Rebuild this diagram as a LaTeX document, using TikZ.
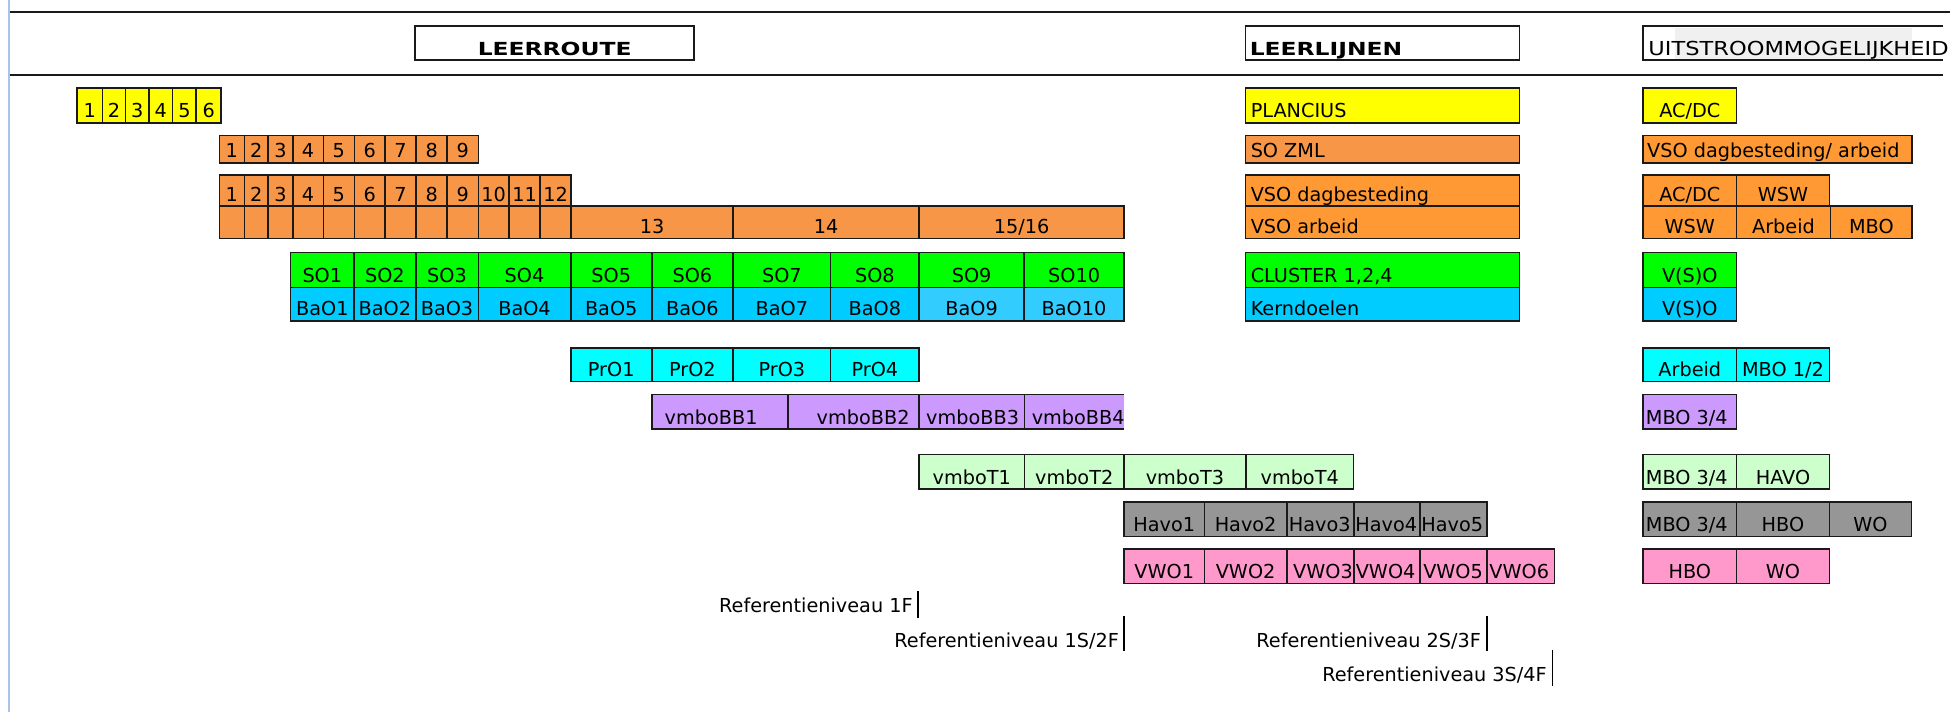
\documentclass[tikz,border=0pt]{standalone}
\usepackage{fontspec}
\setmainfont{DejaVu Sans}
\usepackage{graphicx}
\definecolor{cYel}{HTML}{FFFF00}
\definecolor{cOra}{HTML}{F79646}
\definecolor{cOrb}{HTML}{FF9933}
\definecolor{cGrn}{HTML}{00FF00}
\definecolor{cBlu}{HTML}{00CCFF}
\definecolor{cBlb}{HTML}{33CCFF}
\definecolor{cCya}{HTML}{00FFFF}
\definecolor{cPur}{HTML}{CC99FF}
\definecolor{cLgr}{HTML}{CCFFCC}
\definecolor{cGry}{HTML}{969696}
\definecolor{cPnk}{HTML}{FF99CC}
\definecolor{cLine}{HTML}{1A1A1A}
\definecolor{cSheet}{HTML}{A9C4EB}
\tikzset{
 cellline/.style={draw=cLine, line width=1.3pt},
 lbl/.style={inner sep=0pt, font=\fontsize{15.5}{18}\selectfont, text=black},
 hdr/.style={inner sep=0pt, font=\fontsize{14.5}{17}\selectfont\bfseries, text=black},
 rulestyle/.style={draw=cLine, line width=1.6pt},
 refbar/.style={draw=black, line width=1.4pt},
}
\newcommand\cel[7]{\draw[cellline, fill=#6] (#2,#4) rectangle (#3,#5);
 \node[lbl, anchor=base] (#1) at ({(#2+#3)/2},{#5-4}) {#7};}
\newcommand\celL[8]{\draw[cellline, fill=#6] (#2,#4) rectangle (#3,#5);
 \begin{scope}\clip (#2,#4) rectangle (#3,#5);
 \node[lbl, anchor=base west] (#1) at ({#2+#8},{#5-4}) {#7};\end{scope}}
\begin{document}
\begin{tikzpicture}[x=1pt,y=-1pt]
\fill[white] (0,0) rectangle (1570,573.2);
\useasboundingbox (0,0) rectangle (1570,573.2);
% sheet edge
\coordinate (se1) at (7,0); \coordinate (se2) at (7,573.2);
\draw[cSheet, line width=1.5pt] (se1) -- (se2);
% rules
\coordinate (r1a) at (8,9.4); \coordinate (r1b) at (1572,9.4);
\coordinate (r2a) at (8,60.6); \coordinate (r2b) at (1564,60.6);
\draw[rulestyle] (r1a) -- (r1b);
\draw[rulestyle] (r2a) -- (r2b);
% headers
\draw[cellline, fill=white] (334.3,21) rectangle (558.9,48.5);
\node[hdr, anchor=base] (hLR) at (446.6,44.5) {\scalebox{1.3}[1]{LEERROUTE}};
\draw[cellline, fill=white] (1002.8,21) rectangle (1223.5,48.5);
\node[hdr, anchor=base west] (hLL) at (1006,44.5) {\scalebox{1.3}[1]{LEERLIJNEN}};
\fill[black!6] (1348.6,22.8) rectangle (1539.2,47.6);
\draw[cellline] (1564,21) -- (1323,21) -- (1323,48.5) -- (1564,48.5);
\node[lbl, anchor=base west] (hUM) at (1327,44.5) {\scalebox{1.17}[1]{UITSTROOMMOGELIJKHEID}};
% yellow row
\foreach \a/\b/\t [count=\k] in {62/82.5/1,82.5/101/2,101/120/3,120/139/4,139/158/5,158/178/6}
 {\cel{ya\k}{\a}{\b}{71}{99}{cYel}{\t}}
% orange row 1..9
\foreach \a/\b/\t [count=\k] in {176.6/196.7/1,196.7/216/2,216/235.7/3,235.7/260.3/4,260.3/285.3/5,285.3/310/6,310/335/7,335/360.1/8,360.1/385.1/9}
 {\cel{ob\k}{\a}{\b}{109}{131}{cOra}{\t}}
% orange row 1..12
\foreach \a/\b/\t [count=\k] in {176.6/196.7/1,196.7/216/2,216/235.7/3,235.7/260.3/4,260.3/285.3/5,285.3/310/6,310/335/7,335/360.1/8,360.1/385.1/9,385.1/409.8/10,409.8/434.8/11,434.8/459.8/12}
 {\cel{oc\k}{\a}{\b}{141}{166}{cOra}{\t}
  \cel{od\k}{\a}{\b}{166}{192}{cOra}{}}
\cel{o13}{459.8}{590.2}{166}{192}{cOra}{13}
\cel{o14}{590.2}{740}{166}{192}{cOra}{14}
\cel{o15}{740}{905}{166}{192}{cOra}{15/16}
% SO / BaO
\foreach \a/\b/\t/\c [count=\k] in {234/285/1/cBlu,285/334.7/2/cBlu,334.7/385.1/3/cBlu,385.1/459.5/4/cBlu,459.5/524.7/5/cBlu,524.7/590.2/6/cBlu,590.2/668.8/7/cBlu,668.8/740/8/cBlu,740/824.5/9/cBlb,824.5/905/10/cBlb}
 {\cel{so\k}{\a}{\b}{203.4}{231.4}{cGrn}{SO\t}
  \cel{ba\k}{\a}{\b}{231.4}{258.2}{\c}{BaO\t}}
% PrO
\foreach \a/\b/\t [count=\k] in {459.5/524.7/1,524.7/590.2/2,590.2/668.8/3,668.8/740/4}
 {\cel{pr\k}{\a}{\b}{280}{307.3}{cCya}{PrO\t}}
% vmboBB
\fill[cPur] (524.7,317.5) rectangle (905,345.4);
\draw[cellline] (905,317.5) -- (524.7,317.5) -- (524.7,345.4) -- (905,345.4);
\draw[cellline] (634.5,317.5) -- (634.5,345.4);
\draw[cellline] (740,317.5) -- (740,345.4);
\draw[cellline] (824.7,317.5) -- (824.7,345.4);
\node[lbl, anchor=base west] (bb1) at (535,341.4) {vmboBB1};
\node[lbl, anchor=base east] (bb2) at (732.5,341.4) {vmboBB2};
\begin{scope}\clip (740,317.5) rectangle (824.7,345.4);
\node[lbl, anchor=base west] (bb3) at (745.5,341.4) {vmboBB3};
\end{scope}
\node[lbl, anchor=base west] (bb4) at (830.5,341.4) {vmboBB4};
% vmboT
\foreach \a/\b/\t [count=\k] in {740/824.7/1,824.7/905/2,905/1003/3,1003/1089.8/4}
 {\cel{vt\k}{\a}{\b}{366}{393.7}{cLgr}{vmboT\t}}
% Havo
\cel{hv1}{905}{969.7}{404}{432}{cGry}{Havo1}
\cel{hv2}{969.7}{1036}{404}{432}{cGry}{Havo2}
\celL{hv3}{1036}{1089.9}{404}{432}{cGry}{Havo3}{1.5}
\celL{hv4}{1089.9}{1143.2}{404}{432}{cGry}{Havo4}{1.2}
\celL{hv5}{1143.2}{1197}{404}{432}{cGry}{Havo5}{1}
% VWO
\cel{vw1}{905}{969.7}{442}{469.7}{cPnk}{VWO1}
\cel{vw2}{969.7}{1036}{442}{469.7}{cPnk}{VWO2}
\celL{vw3}{1036}{1089.9}{442}{469.7}{cPnk}{VWO3}{5}
\celL{vw4}{1089.9}{1143.2}{442}{469.7}{cPnk}{VWO4}{1.5}
\celL{vw5}{1143.2}{1197}{442}{469.7}{cPnk}{VWO5}{2.5}
\celL{vw6}{1197}{1251.7}{442}{469.7}{cPnk}{VWO6}{2}
% Leerlijnen
\celL{ll1}{1002.8}{1223.5}{71}{99}{cYel}{PLANCIUS}{4}
\celL{ll2}{1002.8}{1223.5}{109}{131}{cOra}{SO ZML}{4}
\celL{ll3}{1002.8}{1223.5}{141}{166}{cOrb}{VSO dagbesteding}{4}
\celL{ll4}{1002.8}{1223.5}{166}{192}{cOrb}{VSO arbeid}{4}
\celL{ll5}{1002.8}{1223.5}{203.4}{231.4}{cGrn}{CLUSTER 1,2,4}{4}
\celL{ll6}{1002.8}{1223.5}{231.4}{258.2}{cBlu}{Kerndoelen}{4}
% Uitstroom
\cel{u1}{1323}{1398}{71}{99}{cYel}{AC/DC}
\celL{u2}{1323}{1539.5}{109}{131}{cOrb}{VSO dagbesteding/ arbeid}{3}
\cel{u3}{1323}{1398}{141}{166}{cOrb}{AC/DC}
\cel{u4}{1398}{1473}{141}{166}{cOrb}{WSW}
\cel{u5}{1323}{1398}{166}{192}{cOrb}{WSW}
\cel{u6}{1398}{1473.8}{166}{192}{cOrb}{Arbeid}
\cel{u7}{1473.8}{1539.5}{166}{192}{cOrb}{MBO}
\cel{u8}{1323}{1398}{203.4}{231.4}{cGrn}{V(S)O}
\cel{u9}{1323}{1398}{231.4}{258.2}{cBlu}{V(S)O}
\cel{u10}{1323}{1398}{280}{307.3}{cCya}{Arbeid}
\cel{u11}{1398}{1473}{280}{307.3}{cCya}{MBO 1/2}
\celL{u12}{1323}{1398}{317.5}{345.4}{cPur}{MBO 3/4}{2}
\celL{u13}{1323}{1398}{366}{393.7}{cLgr}{MBO 3/4}{2}
\cel{u14}{1398}{1473}{366}{393.7}{cLgr}{HAVO}
\celL{u15}{1323}{1398}{404}{432}{cGry}{MBO 3/4}{2}
\cel{u16}{1398}{1473}{404}{432}{cGry}{HBO}
\cel{u17}{1473}{1539}{404}{432}{cGry}{WO}
\cel{u18}{1323}{1398}{442}{469.7}{cPnk}{HBO}
\cel{u19}{1398}{1473}{442}{469.7}{cPnk}{WO}
% Referentieniveaus
\node[lbl, anchor=base east] (rf1) at (735,493) {Referentieniveau 1F};
\coordinate (b1t) at (739.3,476); \coordinate (b1b) at (739.3,497.5);
\draw[refbar] (b1t) -- (b1b);
\node[lbl, anchor=base east] (rf2) at (901,521) {Referentieniveau 1S/2F};
\coordinate (b2t) at (904.7,496); \coordinate (b2b) at (904.7,524.5);
\draw[refbar] (b2t) -- (b2b);
\node[lbl, anchor=base east] (rf3) at (1192.5,521) {Referentieniveau 2S/3F};
\coordinate (b3t) at (1197,496); \coordinate (b3b) at (1197,524.5);
\draw[refbar] (b3t) -- (b3b);
\node[lbl, anchor=base east] (rf4) at (1245.5,549) {Referentieniveau 3S/4F};
\coordinate (b4t) at (1250,523); \coordinate (b4b) at (1250,552);
\draw[refbar] (b4t) -- (b4b);
\end{tikzpicture}
\end{document}
